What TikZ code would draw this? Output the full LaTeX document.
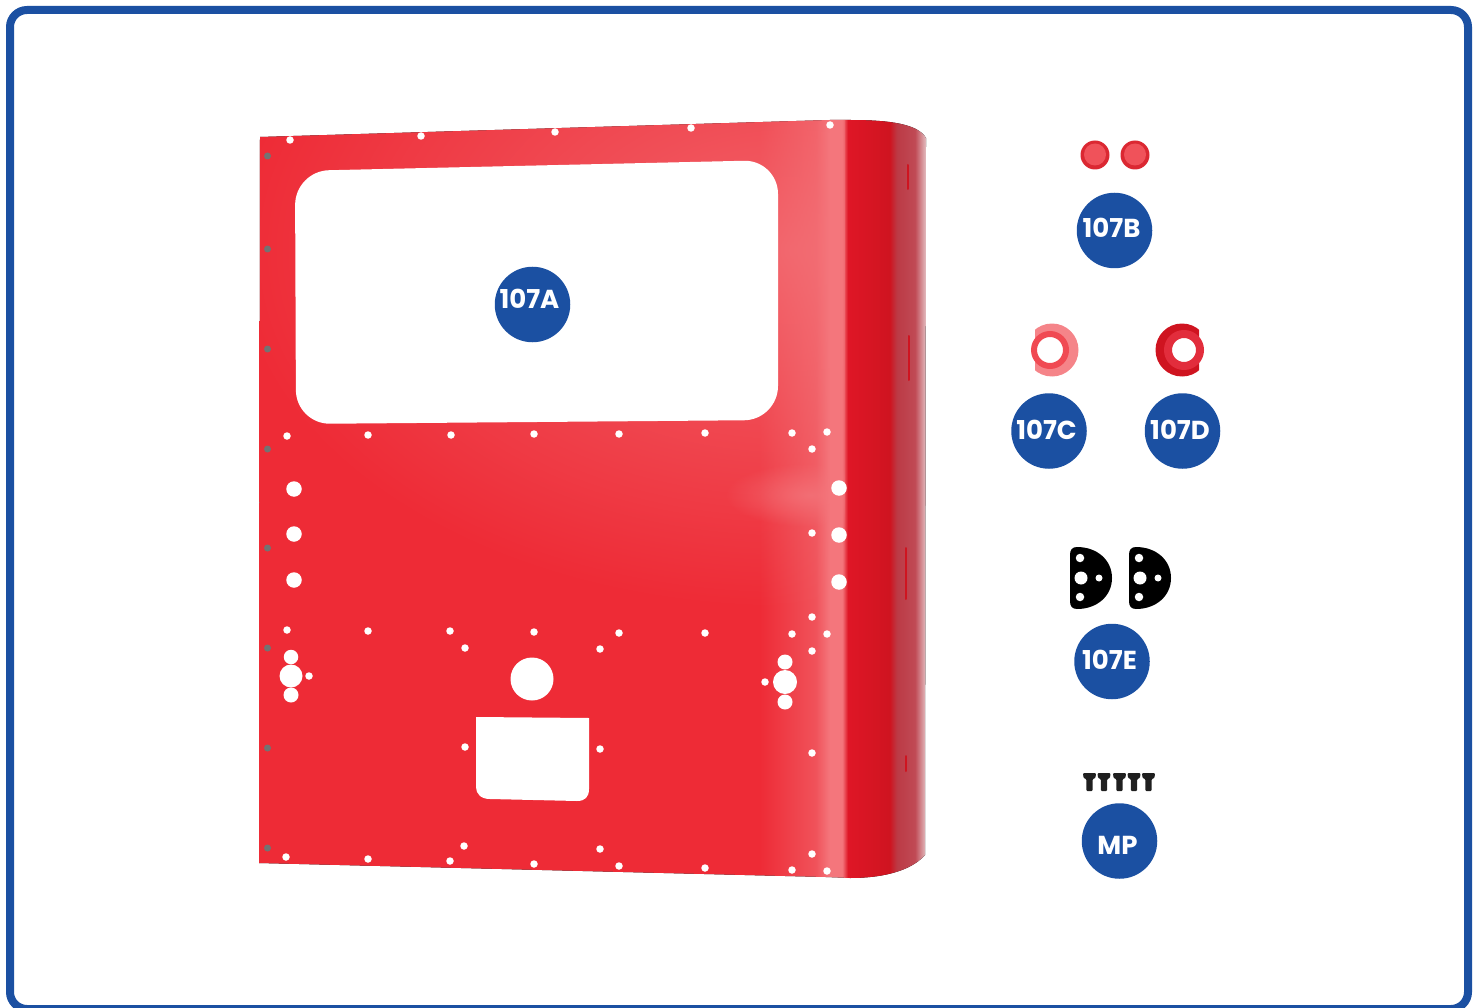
\documentclass[tikz,border=0pt]{standalone}
\usepackage{fontspec}
\setmainfont{Poppins}
\usetikzlibrary{fadings}
\definecolor{frameblue}{HTML}{1B50A2}
\definecolor{panelred}{HTML}{EE2B36}
\definecolor{paleRed}{HTML}{F4767C}
\definecolor{midRed}{HTML}{F0525A}
\definecolor{darkRed}{HTML}{DF1626}
\definecolor{deepRed}{HTML}{CF1420}
\definecolor{edgeRed}{HTML}{BC3A45}
\definecolor{edgeLight}{HTML}{C04A55}
\definecolor{edgeFade}{HTML}{E4C0C3}
\pgfdeclarehorizontalshading{panelshade}{100bp}{
  color(0bp)=(panelred); color(61.4bp)=(panelred); color(65.4bp)=(midRed);
  color(66.4bp)=(paleRed); color(67.3bp)=(paleRed); color(67.7bp)=(darkRed);
  color(70.7bp)=(deepRed); color(71.2bp)=(edgeRed); color(72.5bp)=(edgeLight);
  color(73.3bp)=(edgeFade); color(100bp)=(edgeFade)}
\tikzfading[name=glowfade, inner color=transparent!25, outer color=transparent!100]
\newcommand{\badgetext}[3]{\raisebox{\dimexpr#2pt-9pt\relax}[0pt][0pt]{\makebox[0pt]{\hspace*{#1pt}#3}}}
\tikzset{
  x=1pt, y=-1pt,
  badge/.style={circle, fill=frameblue, text=white, minimum size=75.5pt, inner sep=0pt, font=\fontsize{26}{26}\selectfont\bfseries},
  hole/.style={circle, fill=white, draw=none, inner sep=0pt, minimum size=#1},
  hole/.default=7.5pt,
  pin/.style={circle, fill=black!55, inner sep=0pt, minimum size=7pt},
  disc/.style={circle, inner sep=0pt, minimum size=#1}
}
\begin{document}
\begin{tikzpicture}
  \useasboundingbox (0,0) rectangle (1480,1008);
  \draw[frameblue, line width=8pt, rounded corners=17pt] (10,10) rectangle (1468,1009);

  % panel
  \path[save path=\panelpath] (260,137) -- (830,120) -- (850,120)
     .. controls (890,120) and (918,124) .. (926,138)
     -- (925,855) .. controls (910,872) and (880,878) .. (850,878)
     -- (826,877) -- (259,863) -- cycle;
  \begin{scope}
    \clip[use path=\panelpath];
    \fill[shading=panelshade, shading angle=0] (250,110) rectangle (950,890);
    \begin{scope}
      \clip (250,110) rectangle (845,890);
      \fill[paleRed, path fading=glowfade] (790,250) ellipse (560 and 360);
      \fill[paleRed, path fading=glowfade] (810,495) ellipse (85 and 32);
    \end{scope}
  \end{scope}
  % side slots
  \foreach \sx/\sa/\sb in {908/165/189, 909/336/380, 906/548/599, 906/756/771}
    \draw[deepRed, line width=2pt, line cap=round] (\sx,\sa) -- (\sx,\sb);

  % cut-outs
  \fill[white, rounded corners=34pt] (295,171) -- (778,160) -- (778,420) -- (296,424) -- cycle;
  \fill[white] (476,717) -- (589,718) -- (589,789)
     .. controls (589,797) and (585,801) .. (577,801) -- (490,799)
     .. controls (481,799) and (476,794) .. (476,787) -- cycle;
  \node[hole=43pt] (bigport) at (532,679) {};
  \foreach \hx/\hy in {290/140, 421/136, 555/132, 691/128, 830/125,
     287/436, 368/435, 451/435, 534/434, 619/434, 705/433, 792/433, 827/432, 812/449,
     812/533, 812/617, 827/634, 812/651, 812/753, 812/854,
     287/630, 368/631, 450/631, 534/632, 619/633, 705/633, 792/634,
     465/648, 600/649, 465/747, 600/749, 464/846, 600/849,
     286/857, 368/859, 450/861, 534/864, 619/866, 705/868, 792/870, 827/871,
     309/676, 765/682}
    \node[hole] at (\hx,\hy) {};
  \foreach \hx/\hy in {294/489, 294/534, 294/580, 839/488, 839/535, 839/582}
    \node[hole=15.5pt] at (\hx,\hy) {};
  \foreach \hx/\hy/\hd in {291/657/14.5pt, 291/676/23pt, 291/695/15pt, 785/662/15pt, 785/682/24pt, 785/702/15pt}
    \node[hole=\hd] at (\hx,\hy) {};
  \foreach \hy in {156, 249, 349, 449, 548, 648, 748, 848}
    \node[pin] at (267.5,\hy) {};

  % caps 107B
  \foreach \cx in {1095, 1135} {
    \node[disc=29pt, fill=panelred!92!black] at (\cx,155) {};
    \node[disc=22pt, fill=midRed] at (\cx,154.5) {};
  }
  % rings 107C and 107D
  \begin{scope}
    \clip (1035,320) rectangle (1082,380);
    \node[disc=53pt, fill=paleRed!90!white] (ringc) at (1052,350) {};
  \end{scope}
  \node[disc=32pt, draw=midRed!80!panelred, line width=6pt, fill=white] at (1050,350) {};
  \begin{scope}
    \clip (1155,320) rectangle (1199,380);
    \node[disc=53pt, fill=deepRed] (ringd) at (1182,350) {};
  \end{scope}
  \node[disc=32pt, draw=darkRed!90!white, line width=8pt, fill=white] at (1184,350) {};
  % plates 107E
  \foreach \px in {1070, 1129} {
    \fill[black] (\px+7,547) .. controls (\px+27,547) and (\px+42,560) .. (\px+42,578)
       .. controls (\px+42,596) and (\px+27,609) .. (\px+7,609)
       .. controls (\px+2,609) and (\px,606) .. (\px,601) -- (\px,555)
       .. controls (\px,550) and (\px+2,547) .. (\px+7,547) -- cycle;
    \node[hole=13pt] at (\px+11,578) {};
    \node[hole=8.5pt] at (\px+10,558) {};
    \node[hole=8.5pt] at (\px+10,597) {};
    \node[hole=7pt] at (\px+29,578) {};
  }
  % screws
  \foreach \sx in {1089.5, 1104, 1119.5, 1134, 1148.5} {
    \fill[black!88, rounded corners=1pt] (\sx-6.5,773) -- (\sx+6.5,773) -- (\sx+6,778) -- (\sx+3.2,779) -- (\sx+3.2,791) -- (\sx-3.2,791) -- (\sx-3.2,779) -- (\sx-6,778) -- cycle;
  }

  \node[badge] (badgea) at (532.5,304.5) {\badgetext{-6}{4.5}{107A}};
  \node[badge] (badgeb) at (1114.5,230.5) {\badgetext{-6}{2}{107B}};
  \node[badge] (badgec) at (1049,431) {\badgetext{-5}{1}{107C}};
  \node[badge] (badged) at (1182.5,431) {\badgetext{-5}{1}{107D}};
  \node[badge] (badgee) at (1112,661.5) {\badgetext{-5}{1.5}{107E}};
  \node[badge] (badgemp) at (1119.5,841) {\badgetext{-4}{-4}{MP}};
\end{tikzpicture}
\end{document}
